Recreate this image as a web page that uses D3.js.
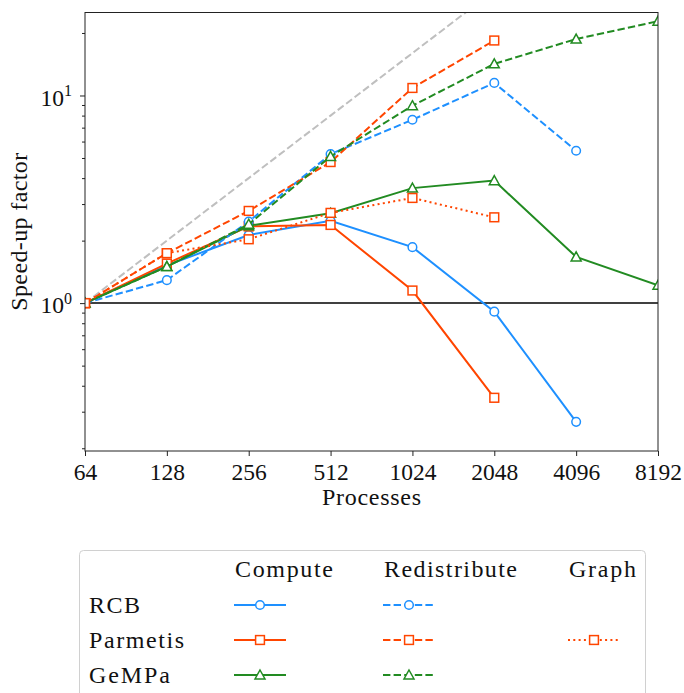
<!DOCTYPE html>
<html>
<head>
<meta charset="utf-8">
<script src="https://cdn.jsdelivr.net/npm/d3@7"></script>
<style>
  body { margin: 0; background: #fff; }
  svg text { font-family: "Liberation Serif", "Times New Roman", "DejaVu Serif", serif; fill: #111; }
</style>
</head>
<body>
<div id="graph"></div>
<script>
// processes (x) and speed-up per method / phase
var processes = [64, 128, 256, 512, 1024, 2048, 4096, 8192];
var rcbCompute = [1, 1.52, 2.13, 2.49, 1.86, 0.91, 0.268];
var rcbRedistribute = [1, 1.29, 2.47, 5.22, 7.64, 11.5, 5.42];
var parmetisCompute = [1, 1.55, 2.34, 2.38, 1.15, 0.35];
var parmetisRedistribute = [1, 1.74, 2.78, 4.78, 10.87, 18.4];
var parmetisGraph = [1, 1.74, 2.03, 2.72, 3.21, 2.59];
var gempaCompute = [1, 1.50, 2.36, 2.71, 3.58, 3.89, 1.67, 1.22];
var gempaRedistribute = [1, 1.50, 2.40, 5.09, 8.93, 14.2, 18.7, 22.8];

var methods = ["RCB", "Parmetis", "GeMPa"];
var phases = ["Compute", "Redistribute", "Graph"];
var yMajorTicks = [1, 10];
var yMinorTicks = [0.2, 0.3, 0.4, 0.5, 0.6, 0.7, 0.8, 0.9, 2, 3, 4, 5, 6, 7, 8, 9, 20];

var width = 684, height = 693;
var plot = { left: 85, right: 658, top: 12.5, bottom: 451 };

var colors = { RCB: "#1e90ff", Parmetis: "#ff4500", GeMPa: "#228b22" };
var markers = { RCB: "circle", Parmetis: "square", GeMPa: "triangle" };
var dashes = { Compute: null, Redistribute: "7.4,3.2", Graph: "2,3.3" };

// widths the serif text takes in the original (CM is wider than Liberation)
var textWidth = {
  Compute: 98, Redistribute: 133, Graph: 67,
  RCB: 51, Parmetis: 95, GeMPa: 81
};

// draw order: computes, redistributes, graph
var series = [
  { method: "RCB", phase: "Compute", values: rcbCompute },
  { method: "Parmetis", phase: "Compute", values: parmetisCompute },
  { method: "GeMPa", phase: "Compute", values: gempaCompute },
  { method: "RCB", phase: "Redistribute", values: rcbRedistribute },
  { method: "Parmetis", phase: "Redistribute", values: parmetisRedistribute },
  { method: "GeMPa", phase: "Redistribute", values: gempaRedistribute },
  { method: "Parmetis", phase: "Graph", values: parmetisGraph }
];

var svg = d3.select("#graph").append("svg")
  .attr("width", width)
  .attr("height", height);

var x = d3.scaleLog().base(2).domain([64, 8192]).range([plot.left, plot.right]);
var y = d3.scaleLog().domain([0.194, 25.1]).range([plot.bottom, plot.top]);

svg.append("clipPath").attr("id", "clip")
  .append("rect")
  .attr("x", plot.left).attr("y", plot.top)
  .attr("width", plot.right - plot.left).attr("height", plot.bottom - plot.top);

var area = svg.append("g").attr("clip-path", "url(#clip)");

// ideal speed-up
area.append("path")
  .datum(processes)
  .attr("d", d3.line().x(function (d) { return x(d); }).y(function (d) { return y(d / 64); }))
  .attr("fill", "none")
  .attr("stroke", "#bfbfbf")
  .attr("stroke-width", 2)
  .attr("stroke-dasharray", "7.4,3.2");

// speed-up = 1
area.append("line")
  .attr("x1", plot.left).attr("x2", plot.right)
  .attr("y1", y(1)).attr("y2", y(1))
  .attr("stroke", "#000")
  .attr("stroke-width", 1.5);

function drawMarker(g, kind, cx, cy, color) {
  if (kind == "circle") {
    g.append("circle").attr("cx", cx).attr("cy", cy).attr("r", 4.3)
      .attr("fill", "#fff").attr("stroke", color).attr("stroke-width", 1.5);
  } else if (kind == "square") {
    g.append("rect").attr("x", cx - 4.4).attr("y", cy - 4.4).attr("width", 8.8).attr("height", 8.8)
      .attr("fill", "#fff").attr("stroke", color).attr("stroke-width", 1.5);
  } else {
    var s = 5;
    g.append("path")
      .attr("d", "M" + cx + "," + (cy - s) + "L" + (cx + s) + "," + (cy + s * 0.8) + "L" + (cx - s) + "," + (cy + s * 0.8) + "Z")
      .attr("fill", "#fff").attr("stroke", color).attr("stroke-width", 1.5);
  }
}

series.forEach(function (s) {
  var pts = s.values.map(function (v, i) { return [processes[i], v]; });
  var g = area.append("g");
  g.append("path")
    .datum(pts)
    .attr("d", d3.line().x(function (d) { return x(d[0]); }).y(function (d) { return y(d[1]); }))
    .attr("fill", "none")
    .attr("stroke", colors[s.method])
    .attr("stroke-width", 2)
    .attr("stroke-dasharray", dashes[s.phase]);
  pts.forEach(function (d) {
    drawMarker(g, markers[s.method], x(d[0]), y(d[1]), colors[s.method]);
  });
});

// frame
svg.append("rect")
  .attr("x", plot.left).attr("y", plot.top)
  .attr("width", plot.right - plot.left).attr("height", plot.bottom - plot.top)
  .attr("fill", "none").attr("stroke", "#222").attr("stroke-width", 1);

// x axis
var xAxis = svg.append("g")
  .attr("transform", "translate(0," + plot.bottom + ")")
  .call(d3.axisBottom(x).tickValues(processes).tickFormat(d3.format("d")).tickSize(5).tickSizeOuter(0));
xAxis.select(".domain").remove();
xAxis.selectAll(".tick line").attr("stroke", "#222");
xAxis.selectAll(".tick text")
  .attr("y", 29).attr("dy", null)
  .attr("font-size", "23.5px")
  .attr("font-family", null);

// y axis minor ticks
var yMinor = svg.append("g")
  .attr("transform", "translate(" + plot.left + ",0)")
  .call(d3.axisLeft(y).tickValues(yMinorTicks).tickFormat("").tickSize(3).tickSizeOuter(0));
yMinor.select(".domain").remove();
yMinor.selectAll(".tick line").attr("stroke", "#222");

// y axis major ticks
var yAxis = svg.append("g")
  .attr("transform", "translate(" + plot.left + ",0)")
  .call(d3.axisLeft(y).tickValues(yMajorTicks).tickSize(5).tickSizeOuter(0));
yAxis.select(".domain").remove();
yAxis.selectAll(".tick line").attr("stroke", "#222");
yAxis.selectAll(".tick text").each(function (d) {
  var t = d3.select(this);
  t.text(null)
    .attr("x", -13).attr("dy", "0.42em")
    .attr("font-size", "23.5px")
    .attr("font-family", null);
  t.append("tspan").text("10");
  t.append("tspan").text(Math.round(Math.log10(d)))
    .attr("font-size", "16px").attr("dy", "-0.6em");
});

// axis titles
svg.append("text")
  .attr("x", (plot.left + plot.right) / 2).attr("y", 505)
  .attr("text-anchor", "middle")
  .attr("font-size", "24px")
  .attr("textLength", 99)
  .attr("lengthAdjust", "spacing")
  .text("Processes");

svg.append("text")
  .attr("transform", "translate(27," + ((plot.top + plot.bottom) / 2) + ") rotate(-90)")
  .attr("text-anchor", "middle")
  .attr("font-size", "24px")
  .attr("textLength", 158)
  .attr("lengthAdjust", "spacing")
  .text("Speed-up factor");

// legend table
var legend = svg.append("g");
legend.append("rect")
  .attr("x", 79.5).attr("y", 550.5)
  .attr("width", 566).attr("height", 160)
  .attr("rx", 4)
  .attr("fill", "#fff").attr("stroke", "#d0d0d0").attr("stroke-width", 1);

var colX = { Compute: 234, Redistribute: 383, Graph: 568 };
var rowY = { RCB: 605, Parmetis: 640, GeMPa: 675 };

phases.forEach(function (p) {
  legend.append("text")
    .attr("x", colX[p] + 1).attr("y", 577)
    .attr("font-size", "24px")
    .attr("textLength", textWidth[p])
    .attr("lengthAdjust", "spacing")
    .text(p);
});
methods.forEach(function (m) {
  legend.append("text")
    .attr("x", 89).attr("y", rowY[m] + 7.5)
    .attr("font-size", "24px")
    .attr("textLength", textWidth[m])
    .attr("lengthAdjust", "spacing")
    .text(m);
});
series.forEach(function (s) {
  var x0 = colX[s.phase], yy = rowY[s.method];
  legend.append("line")
    .attr("x1", x0).attr("x2", x0 + 52)
    .attr("y1", yy).attr("y2", yy)
    .attr("stroke", colors[s.method])
    .attr("stroke-width", 2)
    .attr("stroke-dasharray", dashes[s.phase]);
  drawMarker(legend, markers[s.method], x0 + 26, yy, colors[s.method]);
});
</script>
</body>
</html>
